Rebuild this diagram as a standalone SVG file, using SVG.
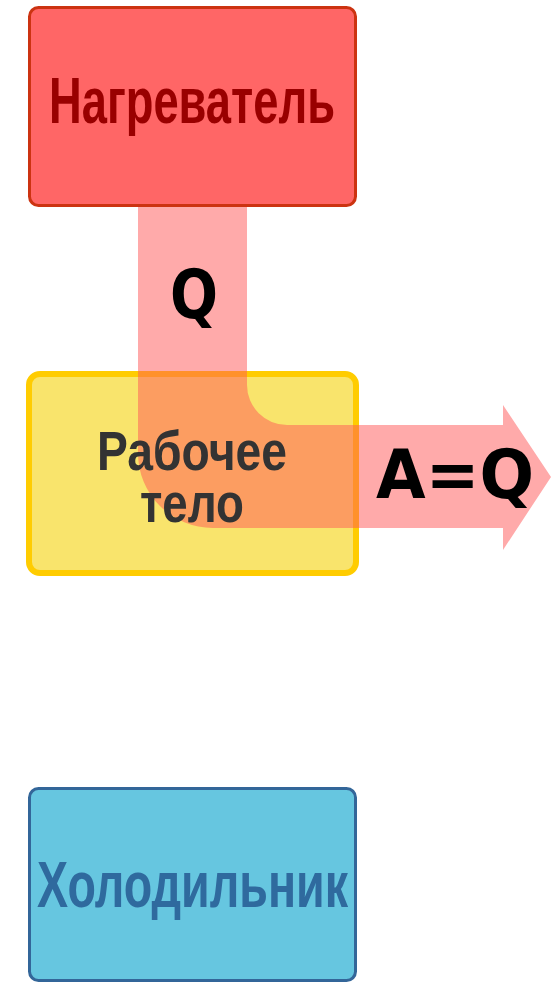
<svg xmlns="http://www.w3.org/2000/svg" width="552" height="983" viewBox="0 0 552 983">
<style>
.box{stroke-width:3}
.lbl{font-family:"Liberation Sans",Arial,sans-serif;font-weight:bold;text-anchor:middle}
.q{font-family:"DejaVu Sans",sans-serif;font-weight:bold;fill:#000;text-anchor:middle}
</style>
<rect width="552" height="983" fill="#fff"/>
<g id="heater">
<rect class="box" x="29.5" y="7.5" width="326" height="198" rx="9" fill="#ff6666" stroke="#cc3311"/>
<text class="lbl" x="192" y="123" font-size="64" fill="#990000" textLength="286" lengthAdjust="spacingAndGlyphs">Нагреватель</text>
</g>
<g id="body">
<rect x="29" y="374" width="327" height="199" rx="11" fill="#f9e46c" stroke="#ffcc00" stroke-width="6"/>
</g>
<g id="connectors">
<path d="M138,207 H247 V385 A40,40 0 0 0 287,425 H503 V405 L551,477 L503,550 V528 H213 A75,75 0 0 1 138,453 Z" fill="#ff5555" fill-opacity="0.5"/>
<text class="q" x="194" y="318" font-size="68" textLength="48" lengthAdjust="spacingAndGlyphs">Q</text>
<text class="q" x="455" y="498" font-size="68" textLength="158" lengthAdjust="spacingAndGlyphs">A=Q</text>
</g>
<g id="body-label">
<text class="lbl" font-size="55" fill="#333"><tspan x="192" y="470" textLength="190" lengthAdjust="spacingAndGlyphs">Рабочее</tspan><tspan x="192" y="522" textLength="104" lengthAdjust="spacingAndGlyphs">тело</tspan></text>
</g>
<g id="cooler">
<rect class="box" x="29.5" y="788.5" width="326" height="192" rx="9" fill="#66c6e0" stroke="#336699"/>
<text class="lbl" x="192.5" y="907" font-size="65" fill="#2f6a9e" textLength="311" lengthAdjust="spacingAndGlyphs">Холодильник</text>
</g>
</svg>
